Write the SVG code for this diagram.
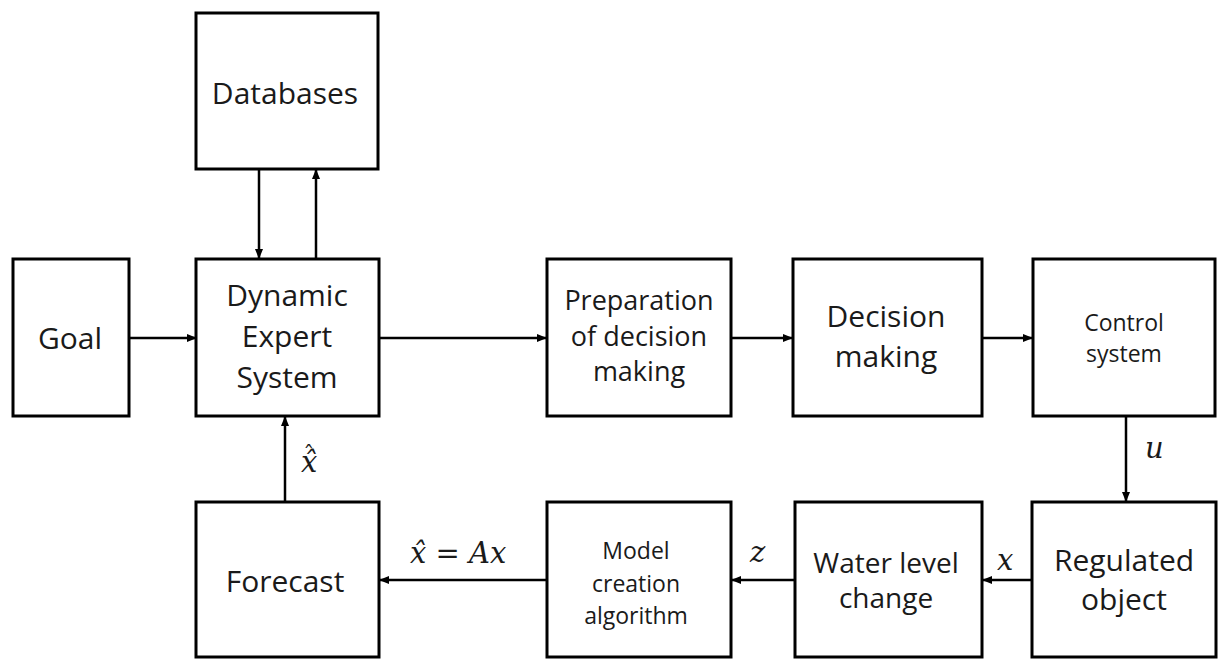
<svg xmlns="http://www.w3.org/2000/svg" width="1218" height="660" viewBox="0 0 1218 660">
<style>
.box{fill:#fff;stroke:#000;stroke-width:3}
.t{font-family:"Open Sans","Noto Sans",sans-serif;fill:#1a1a1a;text-anchor:middle}
.l{font-size:30px}
.w{font-size:28px}
.m{font-size:27px}
.s{font-size:23px}
.c{stroke:#000;stroke-width:2.5;fill:none;marker-end:url(#ah)}
.math{font-family:"DejaVu Serif","Liberation Serif",serif;font-style:italic;font-size:29px;fill:#1a1a1a}
</style>
<defs>
<marker id="ah" markerWidth="10" markerHeight="8" refX="9" refY="4" orient="auto" markerUnits="userSpaceOnUse">
<path d="M0,0 L10,4 L0,8 Z" fill="#000"/>
</marker>
</defs>
<rect width="1218" height="660" fill="#fff"/>
<g id="databases"><rect class="box" x="196" y="13" width="182" height="156"/><text class="t l" x="285" y="104">Databases</text></g>
<g id="goal"><rect class="box" x="13" y="259" width="116" height="157"/><text class="t l" x="70" y="349">Goal</text></g>
<g id="des"><rect class="box" x="196" y="259" width="183" height="157"/><text class="t l" x="287" y="306">Dynamic</text><text class="t l" x="287" y="347">Expert</text><text class="t l" x="287" y="388">System</text></g>
<g id="prep"><rect class="box" x="547" y="259" width="184" height="157"/><text class="t m" x="639" y="310">Preparation</text><text class="t m" x="639" y="346">of decision</text><text class="t m" x="639" y="381">making</text></g>
<g id="decision"><rect class="box" x="793" y="259" width="189" height="157"/><text class="t l" x="886" y="327">Decision</text><text class="t l" x="886" y="367">making</text></g>
<g id="control"><rect class="box" x="1033" y="259" width="182" height="157"/><text class="t s" x="1124" y="331">Control</text><text class="t s" x="1124" y="362">system</text></g>
<g id="regulated"><rect class="box" x="1032" y="502" width="184" height="155"/><text class="t l" x="1124" y="571">Regulated</text><text class="t l" x="1124" y="610">object</text></g>
<g id="water"><rect class="box" x="795" y="502" width="187" height="155"/><text class="t w" x="886" y="573">Water level</text><text class="t w" x="886" y="608">change</text></g>
<g id="model"><rect class="box" x="547" y="502" width="184" height="155"/><text class="t s" x="636" y="559">Model</text><text class="t s" x="636" y="592">creation</text><text class="t s" x="636" y="624">algorithm</text></g>
<g id="forecast"><rect class="box" x="196" y="502" width="183" height="155"/><text class="t l" x="285" y="592">Forecast</text></g>
<g id="connectors">
<line class="c" x1="129" y1="338" x2="196" y2="338"/>
<line class="c" x1="259" y1="169" x2="259" y2="258"/>
<line class="c" x1="316" y1="259" x2="316" y2="170"/>
<line class="c" x1="379" y1="338" x2="546" y2="338"/>
<line class="c" x1="731" y1="338" x2="792" y2="338"/>
<line class="c" x1="982" y1="338" x2="1032" y2="338"/>
<line class="c" x1="1126" y1="416" x2="1126" y2="501"/>
<line class="c" x1="1032" y1="580" x2="983" y2="580"/>
<line class="c" x1="795" y1="580" x2="732" y2="580"/>
<line class="c" x1="547" y1="580" x2="380" y2="580"/>
<line class="c" x1="285" y1="502" x2="285" y2="417"/>
</g>
<g id="labels">
<text class="math" x="301" y="472">x̂<tspan dx="-14" dy="-10" style="font-style:normal;font-size:22px">ˆ</tspan></text>
<text class="math" x="1145" y="458">u</text>
<text class="math" x="997" y="570">x</text>
<text class="math" x="750" y="562">z</text>
<text class="math" x="410" y="563">x̂ = Ax</text>
</g>
</svg>
